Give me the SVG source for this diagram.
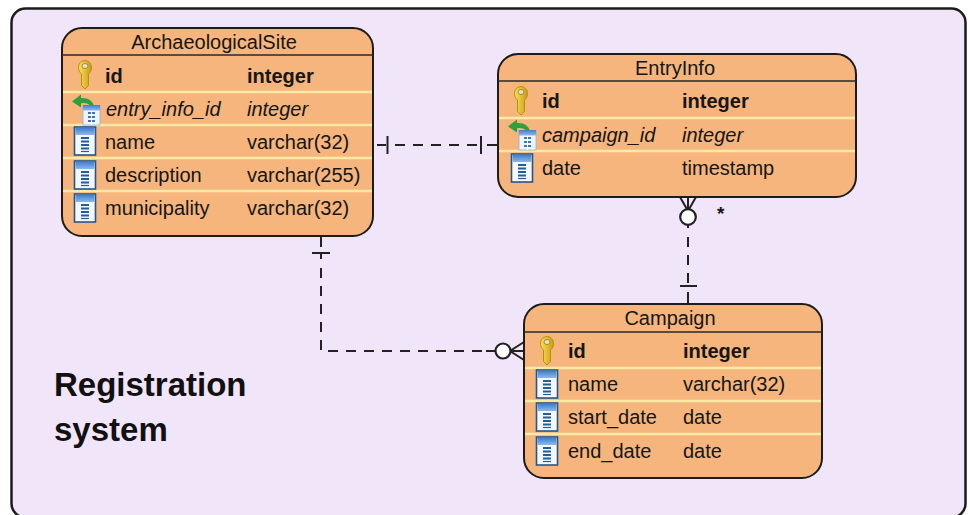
<svg xmlns="http://www.w3.org/2000/svg" width="968" height="515" viewBox="0 0 968 515">
<style>
text{font-family:"Liberation Sans",Arial,sans-serif;font-size:20px;fill:#161616}
.t{text-anchor:middle;font-size:20px}
.b{font-weight:bold}
.i{font-style:italic}
.box{fill:#f5b57c;stroke:#1c1c1c;stroke-width:2}
.hd{stroke:#2a2a2a;stroke-width:1.3}
.sep{stroke:#fbe9a6;stroke-width:2.5}
.c{fill:none;stroke:#222;stroke-width:2}
.d{stroke-dasharray:10 8}
.o{fill:#fff;stroke:#222;stroke-width:2.2}
</style>
<defs>
<linearGradient id="gk" x1="0" x2="1" y1="0" y2="0"><stop offset="0" stop-color="#f9e05a"/><stop offset="1" stop-color="#c99c12"/></linearGradient>
<linearGradient id="gh" x1="0" x2="0" y1="0" y2="1"><stop offset="0" stop-color="#3f7fd0"/><stop offset="1" stop-color="#8db9ea"/></linearGradient>
<g id="key">
<path d="M-3.500,-1 C-8,-4 -8,-14 0,-14.500 C8,-14 8,-4 3.500,-1 L3.500,10.500 L0,14 L-3.500,10.500 Z" fill="url(#gk)" stroke="#b98f12" stroke-width="1"/>
<ellipse cy="-9" rx="3" ry="2.500" fill="#e6e2d0" stroke="#9a7a10" stroke-width="0.800"/>
</g>
<g id="col">
<rect x="-10.500" y="-14" width="21" height="28" fill="#f4f8fd" stroke="#24568c" stroke-width="1.600"/>
<rect x="-9.500" y="-13" width="19" height="7" fill="url(#gh)"/>
<path d="M-4,-3H4M-4,0.500H4M-4,4H4M-4,7.500H4" stroke="#1f5f9e" stroke-width="1.800"/>
<path d="M-4,10.500H4" stroke="#1f5f9e" stroke-width="1.200"/>
</g>
<g id="fk">
<rect x="-2" y="-3.500" width="17" height="19.500" fill="#eef4fb" stroke="#8fb2d6" stroke-width="0.800"/>
<rect x="-2" y="-4" width="17" height="5.500" fill="url(#gh)"/>
<path d="M3,4H10M3,8H10M3,12H10" stroke="#3478b4" stroke-width="1.800"/>
<path d="M6.500,2V16" stroke="#fff" stroke-width="1"/>
<path d="M-13,-7.500 L-4,-14.500 L-4,-11 C3,-11.500 7,-8.500 9,-3.500 L5,-3.500 C2,-6 -1,-6.500 -4,-5.500 L-4,-1.500 Z" fill="#2e9e3f"/>
</g>
</defs>
<rect x="11.500" y="8.500" width="954" height="509" rx="14" fill="#f1e6f9" stroke="#1c1c1c" stroke-width="2.500"/>
<g id="connectors">
<path class="c" d="M377,145H386"/><path class="c" d="M387.500,136V154"/>
<path class="c d" d="M395,145H478"/>
<path class="c" d="M481,136V154"/><path class="c" d="M487,145H498"/>
<path class="c" d="M321,237V247"/><path class="c" d="M312,253H330"/><path class="c" d="M321,253V259"/>
<path class="c d" d="M321,268V351H485"/>
<path class="c" d="M486,351H496"/>
<path class="c" d="M524,342L510,351L524,360M511,351H524"/>
<circle class="o" cx="503" cy="351" r="7.500"/>
<path class="c" d="M680,197L688,211L696,197M688,197V209"/>
<circle class="o" cx="688" cy="217" r="7.800"/>
<path class="c" d="M688,225V228"/>
<path class="c d" d="M688,237V283"/>
<path class="c" d="M680,286H697"/><path class="c" d="M688,292V303"/>
</g>
<g id="ArchaeologicalSite">
<rect class="box" x="62" y="28" width="311" height="208" rx="20"/>
<path class="hd" d="M62,55H373"/>
<path class="sep" d="M63,92H372M63,125H372M63,158H372M63,191H372"/>
<text class="t" x="214" y="49">ArchaeologicalSite</text>
<use href="#key" x="85" y="75"/><text class="b" x="105" y="83">id</text><text class="b" x="247" y="83">integer</text>
<use href="#fk" x="85" y="109"/><text class="i" x="106" y="116">entry_info_id</text><text class="i" x="247" y="116">integer</text>
<use href="#col" x="85" y="141"/><text x="105" y="149">name</text><text x="247" y="149">varchar(32)</text>
<use href="#col" x="85" y="175"/><text x="105" y="182">description</text><text x="247" y="182">varchar(255)</text>
<use href="#col" x="85" y="208"/><text x="105" y="215">municipality</text><text x="247" y="215">varchar(32)</text>
</g>
<g id="EntryInfo">
<rect class="box" x="498" y="54" width="358" height="143" rx="20"/>
<path class="hd" d="M498,81H856"/>
<path class="sep" d="M499,118H855M499,151H855"/>
<text class="t" x="675" y="75">EntryInfo</text>
<use href="#key" x="521" y="101"/><text class="b" x="542" y="108">id</text><text class="b" x="682" y="108">integer</text>
<use href="#fk" x="521" y="134"/><text class="i" x="542" y="142">campaign_id</text><text class="i" x="682" y="142">integer</text>
<use href="#col" x="522" y="168"/><text x="542" y="175">date</text><text x="682" y="175">timestamp</text>
</g>
<g id="Campaign">
<rect class="box" x="524" y="304" width="298" height="174" rx="20"/>
<path class="hd" d="M524,332H822"/>
<path class="sep" d="M525,368H821M525,401H821M525,434H821"/>
<text class="t" x="670" y="325">Campaign</text>
<use href="#key" x="547" y="351"/><text class="b" x="568" y="358">id</text><text class="b" x="683" y="358">integer</text>
<use href="#col" x="547" y="384"/><text x="568" y="391">name</text><text x="683" y="391">varchar(32)</text>
<use href="#col" x="547" y="417"/><text x="568" y="424">start_date</text><text x="683" y="424">date</text>
<use href="#col" x="547" y="451"/><text x="568" y="458">end_date</text><text x="683" y="458">date</text>
</g>
<text x="717" y="220" style="font-size:19px;font-weight:bold">*</text>
<text class="b" x="54" y="396" style="font-size:33px;fill:#111">Registration</text>
<text class="b" x="54" y="441" style="font-size:33px;fill:#111">system</text>
</svg>
